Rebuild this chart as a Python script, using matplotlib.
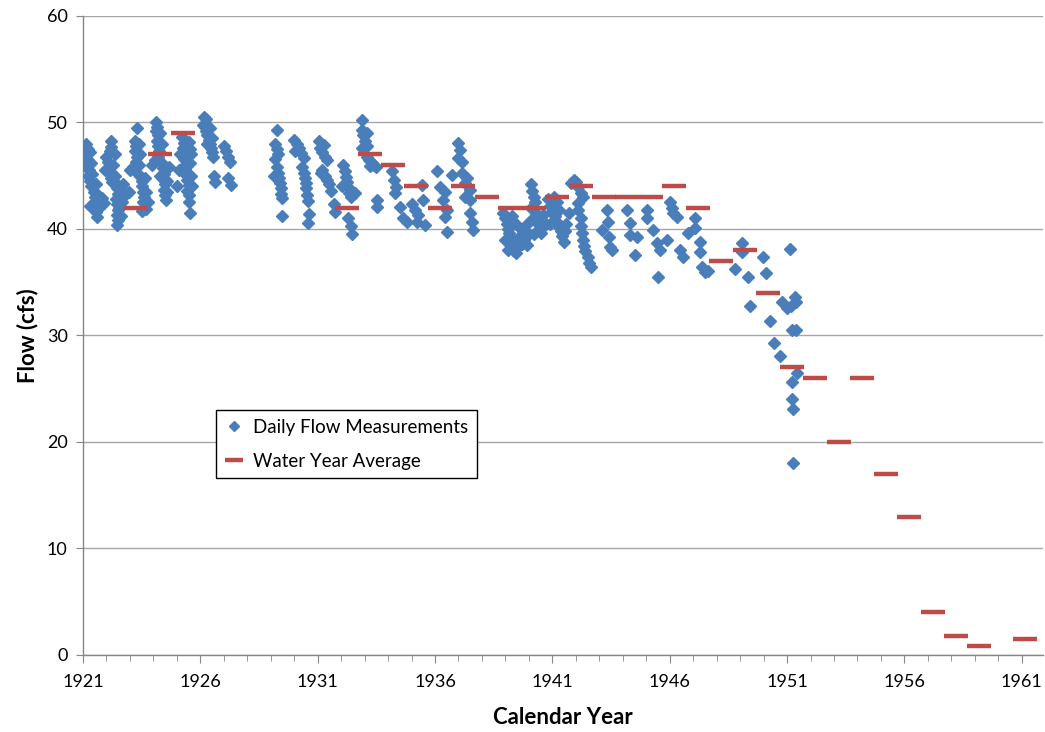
import matplotlib
matplotlib.use("Agg")
import matplotlib.pyplot as plt
from matplotlib.ticker import MultipleLocator

# ---------------- data ----------------
# Daily flow measurements (decimal calendar year, flow in cfs)
daily_early = [
    # 1921
    (1921.15, 48.0), (1921.2, 47.5), (1921.15, 47.0), (1921.2, 46.5), (1921.15, 46.0),
    (1921.25, 45.5), (1921.2, 45.0), (1921.3, 44.5), (1921.35, 44.0), (1921.45, 43.5),
    (1921.5, 43.0), (1921.5, 42.5), (1921.45, 42.0), (1921.55, 41.6), (1921.6, 41.1),
    (1921.8, 42.9), (1921.9, 42.4), (1921.75, 42.6), (1921.3, 42.2),
    (1921.3, 47.2), (1921.35, 46.2), (1921.4, 45.2), (1921.55, 44.2), (1921.65, 43.2),
    (1921.7, 42.0),
    # 1922
    (1922.0, 46.8), (1922.05, 46.3), (1922.1, 45.8), (1922.15, 47.3), (1922.2, 48.3),
    (1922.15, 45.3), (1922.2, 44.8), (1922.25, 44.4), (1922.2, 47.7), (1921.95, 45.5),
    (1922.4, 44.3), (1922.45, 43.8), (1922.5, 43.3), (1922.4, 42.8), (1922.45, 42.3),
    (1922.5, 41.8), (1922.45, 41.3), (1922.5, 40.8), (1922.45, 40.4), (1922.6, 43.8),
    (1922.7, 43.0), (1922.35, 45.0), (1922.55, 42.0),
    (1922.3, 46.0), (1922.35, 47.0), (1922.6, 41.2), (1922.65, 42.5), (1922.7, 44.2),
    # 1923
    (1923.3, 49.5), (1923.2, 48.3), (1923.25, 47.8), (1923.2, 47.3), (1923.3, 46.8),
    (1923.25, 46.3), (1923.15, 45.8), (1923.3, 45.3), (1923.45, 45.0), (1923.5, 44.5),
    (1923.5, 44.0), (1923.55, 43.5), (1923.6, 43.0), (1923.55, 42.5), (1923.6, 42.0),
    (1923.5, 41.7), (1923.0, 45.5), (1922.95, 43.5), (1923.65, 44.8), (1923.4, 46.0),
    (1923.4, 48.0), (1923.45, 47.0), (1923.7, 43.5), (1923.75, 42.5), (1923.7, 41.9),
    # 1924
    (1924.1, 50.0), (1924.15, 49.6), (1924.1, 49.2), (1924.2, 48.8), (1924.15, 48.3),
    (1924.2, 47.8), (1924.25, 47.3), (1924.2, 46.8), (1924.05, 46.5), (1924.35, 46.2),
    (1924.4, 45.7), (1924.45, 45.2), (1924.4, 44.7), (1924.5, 44.2), (1924.45, 43.7),
    (1924.5, 43.2), (1924.55, 42.7), (1923.95, 46.0), (1924.3, 45.0), (1924.6, 44.5),
    (1924.3, 49.0), (1924.35, 48.0), (1924.6, 43.5), (1924.65, 45.8),
    # 1925
    (1925.2, 48.6), (1925.3, 48.1), (1925.25, 47.6), (1925.35, 47.1), (1925.3, 46.6),
    (1925.4, 46.1), (1925.35, 45.6), (1925.4, 45.1), (1925.45, 44.6), (1925.5, 44.1),
    (1925.45, 43.6), (1925.5, 43.2), (1925.15, 47.0), (1925.55, 46.2), (1925.55, 47.5),
    (1925.5, 48.2), (1925.0, 44.0), (1925.5, 42.5), (1925.55, 41.5), (1925.6, 45.0),
    (1925.6, 47.0), (1925.65, 44.0), (1925.1, 45.5),
    # 1926-1927
    (1926.1, 49.8), (1926.15, 50.5), (1926.25, 50.3), (1926.2, 49.6), (1926.25, 49.2),
    (1926.3, 48.8), (1926.35, 48.4), (1926.4, 48.0), (1926.45, 47.6), (1926.5, 47.2),
    (1926.55, 46.8), (1926.4, 49.5), (1926.3, 48.0), (1926.5, 48.5), (1926.6, 45.0),
    (1926.62, 44.4), (1927.0, 47.8), (1927.1, 47.3), (1927.2, 46.8), (1927.25, 46.3),
    (1927.2, 44.8), (1927.3, 44.1),
]

daily_middle = [
    # 1929-1930
    (1929.25, 49.3), (1929.2, 48.0), (1929.25, 47.5), (1929.3, 47.0), (1929.2, 46.6),
    (1929.25, 45.8), (1929.3, 45.3), (1929.35, 44.8), (1929.4, 44.3), (1929.45, 43.8),
    (1929.45, 43.3), (1929.5, 42.9), (1929.15, 45.0), (1929.5, 41.2),
    (1930.0, 48.4), (1930.1, 48.0), (1930.2, 47.6), (1930.3, 47.1), (1930.4, 46.7),
    (1930.05, 47.3), (1930.35, 45.8), (1930.4, 45.3), (1930.45, 44.8), (1930.5, 44.3),
    (1930.5, 43.8), (1930.55, 43.2), (1930.6, 42.6), (1930.65, 41.4), (1930.6, 40.6),
    # 1931-1933
    (1931.05, 48.3), (1931.1, 47.6), (1931.2, 47.2), (1931.3, 46.8), (1931.4, 46.5),
    (1931.25, 47.9), (1931.2, 45.5), (1931.3, 45.0), (1931.4, 44.6), (1931.5, 44.2),
    (1931.55, 43.6), (1931.15, 45.3), (1931.7, 42.3), (1931.72, 41.6),
    (1932.1, 46.0), (1932.15, 45.4), (1932.2, 44.9), (1932.25, 44.4), (1932.3, 43.9),
    (1932.35, 43.4), (1932.4, 43.0), (1932.05, 44.0), (1932.3, 41.0), (1932.4, 40.3),
    (1932.45, 39.5), (1932.6, 43.4),
    (1932.88, 50.2), (1932.9, 49.3), (1932.95, 48.8), (1933.0, 48.3), (1933.1, 47.8),
    (1932.9, 47.6), (1933.1, 49.0), (1933.1, 46.8), (1933.2, 46.5), (1933.3, 46.2),
    (1933.4, 46.0), (1933.5, 45.8), (1933.25, 45.9),
    # 1933.5-1936
    (1933.52, 42.7), (1933.52, 42.1), (1934.16, 45.4), (1934.25, 44.6), (1934.33, 43.9),
    (1934.3, 43.4), (1934.5, 42.1), (1934.63, 41.0), (1934.8, 40.7), (1935.01, 42.3),
    (1935.14, 41.8), (1935.27, 41.3), (1935.22, 40.7), (1935.44, 44.1), (1935.48, 42.7),
    (1935.57, 40.4),
    # 1936-1937
    (1936.08, 45.4), (1936.2, 43.9), (1936.42, 43.5), (1936.33, 42.7), (1936.5, 41.8),
    (1936.42, 41.1), (1936.5, 39.7), (1936.72, 45.1), (1936.97, 48.1), (1937.06, 47.4),
    (1936.97, 46.7), (1937.14, 46.3), (1937.14, 45.3), (1937.35, 44.8), (1937.27, 44.3),
    (1937.48, 43.7), (1937.27, 43.0), (1937.48, 42.7), (1937.48, 41.5), (1937.57, 40.7),
    (1937.6, 39.9),
]

daily_late = [
    # 1939
    (1938.9, 41.5), (1939.0, 41.0), (1939.05, 40.5), (1939.1, 40.0), (1939.15, 39.6),
    (1939.2, 39.2), (1939.25, 38.8), (1939.3, 38.3), (1939.35, 37.9), (1939.45, 37.7),
    (1939.5, 38.2), (1939.55, 38.8), (1939.6, 39.3), (1939.7, 38.6), (1939.75, 39.8),
    (1939.8, 39.0), (1939.9, 38.5), (1940.0, 39.5), (1939.45, 40.5), (1939.3, 41.2),
    (1939.65, 40.0), (1939.85, 40.3), (1939.1, 38.0), (1939.0, 39.0),
    # 1940
    (1940.1, 44.2), (1940.15, 43.6), (1940.2, 43.0), (1940.25, 42.5), (1940.1, 42.0),
    (1940.3, 41.5), (1940.35, 41.0), (1940.4, 40.5), (1940.45, 40.0), (1940.5, 39.6),
    (1940.55, 40.8), (1940.6, 41.3), (1940.2, 39.5), (1940.65, 40.3), (1940.1, 40.8),
    # 1941
    (1940.8, 42.8), (1940.9, 42.2), (1941.0, 41.7), (1941.1, 41.2), (1941.2, 40.7),
    (1941.3, 40.2), (1941.35, 39.8), (1941.4, 39.3), (1941.5, 38.8), (1941.55, 39.8),
    (1941.6, 40.5), (1941.7, 41.5), (1940.9, 40.5), (1941.05, 43.0), (1941.2, 42.5),
    (1941.3, 41.8),
    # 1942
    (1941.8, 44.3), (1941.9, 44.6), (1942.0, 44.4), (1942.1, 43.9), (1942.2, 43.4),
    (1942.3, 43.0), (1942.1, 42.4), (1942.1, 41.8), (1942.2, 41.0), (1942.2, 40.3),
    (1942.25, 39.6), (1942.3, 39.0), (1942.35, 38.4), (1942.4, 37.9), (1942.5, 37.4),
    (1942.55, 36.8), (1942.65, 36.4),
    # 1943-1947
    (1943.1, 39.9), (1943.32, 41.8), (1943.36, 40.7), (1943.4, 39.2), (1943.53, 38.0),
    (1943.44, 38.3), (1944.17, 41.8), (1944.3, 40.6), (1944.32, 39.4), (1944.51, 37.6),
    (1944.6, 39.2), (1945.02, 41.8), (1945.05, 41.0), (1945.28, 39.9), (1945.45, 38.7),
    (1945.6, 38.0), (1945.49, 35.5), (1945.87, 39.0), (1946.0, 42.5), (1946.1, 42.0),
    (1946.13, 41.5), (1946.3, 41.1), (1946.43, 38.0), (1946.55, 37.4), (1946.77, 39.6),
    (1947.07, 41.0), (1947.07, 40.1), (1947.28, 38.8), (1947.28, 37.8), (1947.36, 36.4),
    (1947.49, 36.0), (1947.62, 36.1),
    # 1948-1951
    (1948.77, 36.2), (1949.07, 38.7), (1949.07, 37.8), (1949.32, 35.5), (1949.41, 32.8),
    (1949.96, 37.4), (1950.09, 35.9), (1950.26, 31.4), (1950.43, 29.3), (1950.68, 28.1),
    (1950.77, 33.1), (1950.98, 32.6), (1951.11, 38.1), (1951.15, 32.8), (1951.32, 33.6),
    (1951.38, 33.1), (1951.2, 30.5), (1951.4, 30.5), (1951.41, 26.5), (1951.2, 25.6),
    (1951.2, 24.0), (1951.25, 23.1), (1951.25, 18.0),
]

# Water year averages (decimal calendar year, flow in cfs)
avg_year = [1923.28, 1924.28, 1925.28, 1932.25, 1933.22, 1934.2, 1935.2, 1936.2,
            1937.2, 1938.2, 1939.2, 1940.2, 1941.2, 1942.2, 1943.2, 1944.2, 1945.2,
            1946.2, 1947.2, 1948.2, 1949.2, 1950.2, 1951.2, 1952.2, 1953.2, 1954.2,
            1955.2, 1956.2, 1957.2, 1958.18, 1959.16, 1961.14]
avg_flow = [42, 47, 49, 42, 47, 46, 44, 42, 44, 43, 42, 42, 43, 44, 43, 43, 43,
            44, 42, 37, 38, 34, 27, 26, 20, 26, 17, 13, 4, 1.8, 0.8, 1.5]

x_ticks = [1921, 1926, 1931, 1936, 1941, 1946, 1951, 1956, 1961]

# ---------------- plot ----------------
plt.rcParams['font.family'] = ['Lato', 'DejaVu Sans']

blue = '#4A7EBB'
red = '#BE4B48'

fig = plt.figure(figsize=(10.45, 7.32), dpi=100)
ax = fig.add_axes([0.0794, 0.1052, 0.9186, 0.8730])

daily = daily_early + daily_middle + daily_late
dx = [p[0] for p in daily]
dy = [p[1] for p in daily]

ax.plot(dx, dy, linestyle='none', marker='D', markersize=6.3, color=blue,
        markeredgecolor=blue, label='Daily Flow Measurements', zorder=3)
ax.plot(avg_year, avg_flow, linestyle='none', marker='_', markersize=17,
        markeredgewidth=3.2, color=red, label='Water Year Average', zorder=4)

ax.set_xlim(1921, 1961.9)
ax.set_ylim(0, 60)
ax.set_xticks(x_ticks)
ax.xaxis.set_minor_locator(MultipleLocator(1))
ax.yaxis.set_major_locator(MultipleLocator(10))
ax.grid(axis='y', color='#A6A6A6', linewidth=1.0)
ax.set_axisbelow(True)

for s in ['top', 'right']:
    ax.spines[s].set_visible(False)
for s in ['left', 'bottom']:
    ax.spines[s].set_color('#868686')
    ax.spines[s].set_linewidth(1.0)

ax.tick_params(axis='x', which='major', direction='out', length=6, color='#868686',
               labelsize=13, pad=8)
ax.tick_params(axis='x', which='minor', direction='out', length=4, color='#868686')
ax.tick_params(axis='y', which='major', direction='out', length=5, color='#868686',
               labelsize=13, pad=6)

ax.set_xlabel('Calendar Year', fontsize=16, fontweight='bold', labelpad=12)
ax.set_ylabel('Flow (cfs)', fontsize=16, fontweight='bold', labelpad=6)

leg = ax.legend(loc='upper left', bbox_to_anchor=(0.139, 0.383), borderaxespad=0,
                frameon=True, fancybox=False, edgecolor='black', framealpha=1,
                fontsize=13.5, labelspacing=0.9, handlelength=1.0, handletextpad=0.5,
                borderpad=0.45, markerscale=0.75)
leg.get_frame().set_linewidth(1.0)

fig.savefig('out.png', dpi=100)
